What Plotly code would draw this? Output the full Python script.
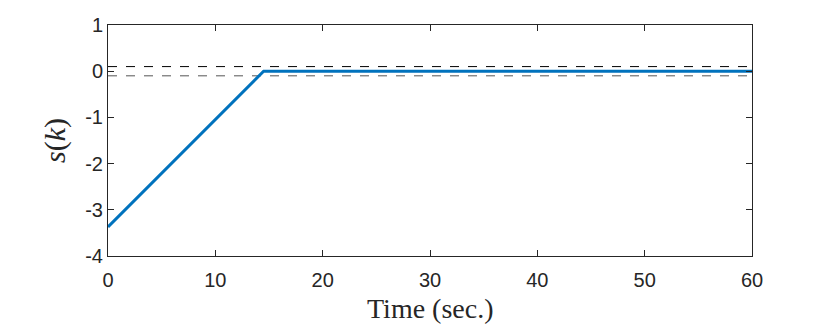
import plotly.graph_objects as go

# sliding variable s(k) over time
t = [0, 14.5, 60]
s = [-3.37, 0, 0]

# boundary layer
t_band = [0, 60]
upper = [0.1, 0.1]
lower = [-0.1, -0.1]

x_ticks = [0, 10, 20, 30, 40, 50, 60]
y_ticks = [-4, -3, -2, -1, 0, 1]

fig = go.Figure()

fig.add_trace(go.Scatter(x=t_band, y=upper, mode="lines",
                         line=dict(color="black", width=1, dash="dash")))
fig.add_trace(go.Scatter(x=t_band, y=lower, mode="lines",
                         line=dict(color="#555555", width=1, dash="dash")))
fig.add_trace(go.Scatter(x=t, y=s, mode="lines",
                         line=dict(color="#0072BD", width=3)))

axis_style = dict(
    showgrid=False, zeroline=False, automargin=False,
    showline=True, linecolor="#262626", linewidth=1, mirror="ticks",
    ticks="inside", ticklen=6, tickcolor="#262626",
    tickfont=dict(family="Liberation Sans, Arial", size=20, color="#262626"),
)

fig.update_xaxes(range=[0, 60], tickvals=x_ticks, ticklabelstandoff=6,
                 **axis_style)
fig.update_yaxes(range=[-4, 1], tickvals=y_ticks,
                 ticktext=[str(v) for v in y_ticks],
                 title=dict(text="<i>s</i>(<i>k</i>)", standoff=10,
                            font=dict(family="Liberation Serif, Times New Roman", size=30, color="#262626")),
                 **axis_style)

# x title placed a little closer to the tick labels than standoff allows
fig.add_annotation(text="Time (sec.)", xref="paper", yref="paper",
                   x=0.5, y=0, yanchor="top", yshift=-35, showarrow=False,
                   font=dict(family="Liberation Serif, Times New Roman", size=28, color="#262626"))

fig.update_layout(
    width=830, height=325,
    margin=dict(l=100, r=86, t=17, b=77),
    plot_bgcolor="white", paper_bgcolor="white",
    showlegend=False,
)

fig.write_html("out.html")
